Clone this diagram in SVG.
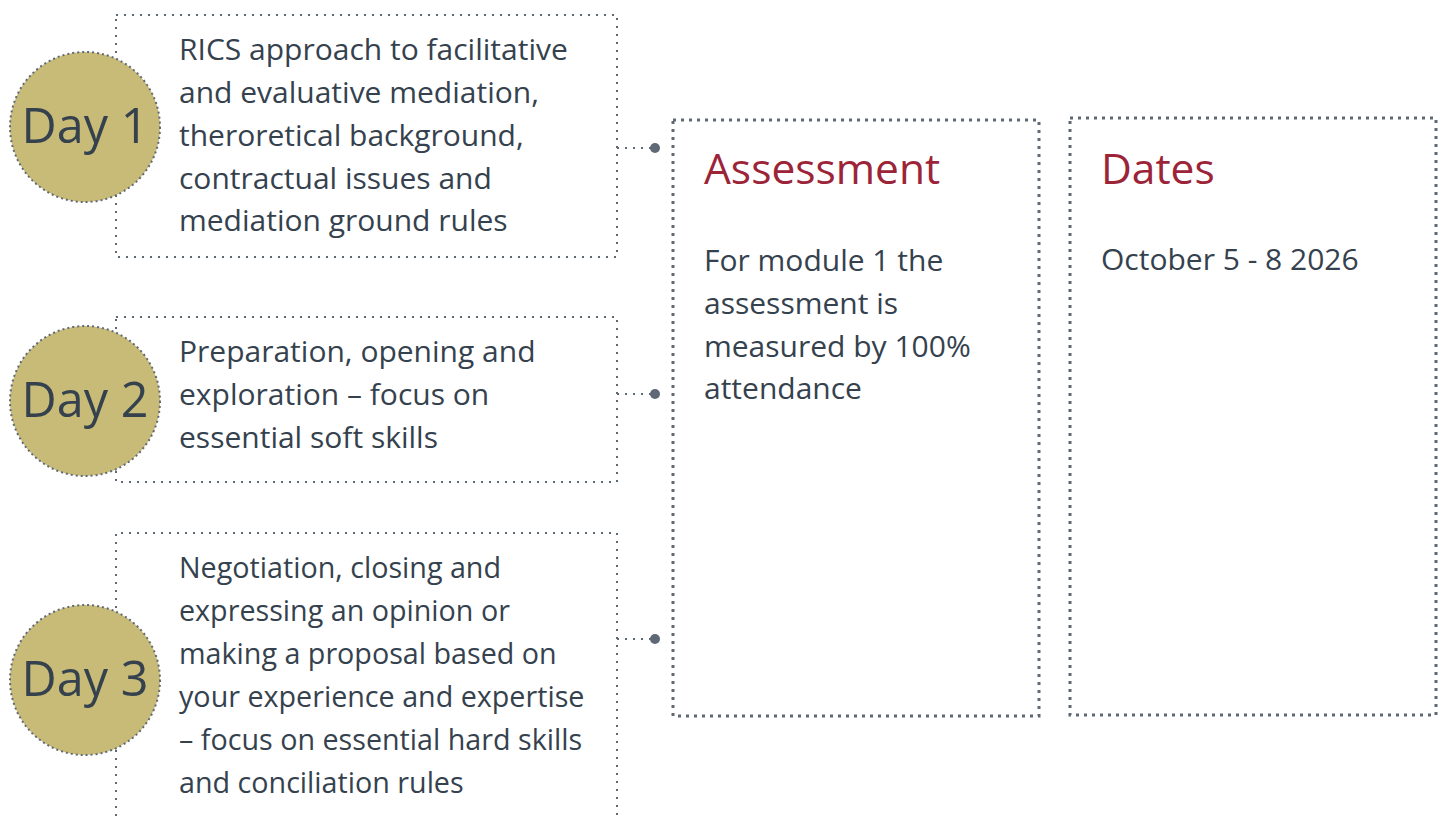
<svg xmlns="http://www.w3.org/2000/svg" width="1443" height="816" viewBox="0 0 1443 816">
<style>
.bg{fill:#ffffff}
.box{fill:none;stroke:#5f6875;stroke-width:2;stroke-dasharray:2 6}
.big{fill:none;stroke:#5f6875;stroke-width:3;stroke-dasharray:3 5}
.circ{fill:#c8bb78;stroke:#5f6875;stroke-width:2;stroke-dasharray:2 3}
.day{font-family:"Open Sans","Liberation Sans",sans-serif;font-size:48.5px;fill:#35424e;text-anchor:middle}
.txt{font-family:"Open Sans","Liberation Sans",sans-serif;font-size:30px;fill:#35424e}
.sm{font-size:28.7px}
.ttl{font-family:"Open Sans","Liberation Sans",sans-serif;font-size:42.5px;fill:#9c2438}
.conn{fill:none;stroke:#5f6875;stroke-width:2;stroke-dasharray:2 6}
.dot{fill:#5f6875}
</style>
<rect class="bg" x="0" y="0" width="1443" height="816"/>
<g id="connectors">
<line class="conn" x1="617" y1="148" x2="652" y2="148"/>
<circle class="dot" cx="655" cy="148" r="5"/>
<line class="conn" x1="617" y1="394" x2="652" y2="394"/>
<circle class="dot" cx="655" cy="394" r="5"/>
<line class="conn" x1="617" y1="639" x2="652" y2="639"/>
<circle class="dot" cx="655" cy="639" r="5"/>
</g>
<g id="day1">
<rect class="box" x="116" y="15" width="501" height="242"/>
<circle class="circ" cx="85" cy="127" r="75"/>
<text class="day" x="85" y="143">Day 1</text>
<text class="txt" x="179" y="60">RICS approach to facilitative</text>
<text class="txt" x="179" y="103">and evaluative mediation,</text>
<text class="txt" x="179" y="146">theroretical background,</text>
<text class="txt" x="179" y="189">contractual issues and</text>
<text class="txt" x="179" y="231">mediation ground rules</text>
</g>
<g id="day2">
<rect class="box" x="116" y="317" width="501" height="165"/>
<circle class="circ" cx="85" cy="401" r="75"/>
<text class="day" x="85" y="417">Day 2</text>
<text class="txt" x="179" y="362">Preparation, opening and</text>
<text class="txt" x="179" y="405">exploration – focus on</text>
<text class="txt" x="179" y="448">essential soft skills</text>
</g>
<g id="day3">
<path class="box" d="M116 816 V533 H617 V816"/>
<circle class="circ" cx="85" cy="680" r="75"/>
<text class="day" x="85" y="696">Day 3</text>
<text class="txt sm" x="179" y="578">Negotiation, closing and</text>
<text class="txt sm" x="179" y="621">expressing an opinion or</text>
<text class="txt sm" x="179" y="664">making a proposal based on</text>
<text class="txt sm" x="179" y="707">your experience and expertise</text>
<text class="txt sm" x="179" y="750">– focus on essential hard skills</text>
<text class="txt sm" x="179" y="793">and conciliation rules</text>
</g>
<g id="assessment">
<rect class="big" x="673" y="120" width="366" height="596"/>
<text class="ttl" x="704" y="184">Assessment</text>
<text class="txt" x="704" y="271">For module 1 the</text>
<text class="txt" x="704" y="314">assessment is</text>
<text class="txt" x="704" y="357">measured by 100%</text>
<text class="txt" x="704" y="399">attendance</text>
</g>
<g id="dates">
<rect class="big" x="1070" y="118" width="366" height="597"/>
<text class="ttl" x="1101" y="184">Dates</text>
<text class="txt" x="1101" y="270">October 5 - 8 2026</text>
</g>
</svg>
